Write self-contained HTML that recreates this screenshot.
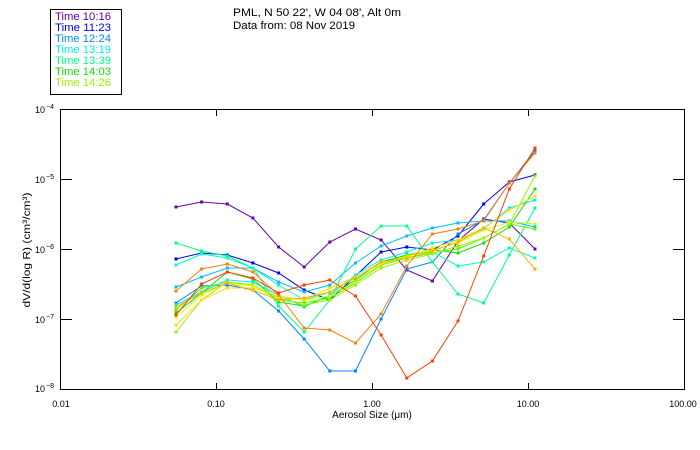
<!DOCTYPE html>
<html><head><meta charset="utf-8"><style>
html,body{margin:0;padding:0;background:#fff;}
svg{display:block;font-family:"Liberation Sans",sans-serif;}
</style></head><body>
<svg width="700" height="450" viewBox="0 0 700 450" xmlns="http://www.w3.org/2000/svg">
<defs>
<marker id="m1" markerUnits="userSpaceOnUse" markerWidth="4" markerHeight="4" refX="2" refY="2"><rect x="0.5" y="0.5" width="3" height="3" fill="#6600aa"/></marker>
<marker id="m2" markerUnits="userSpaceOnUse" markerWidth="4" markerHeight="4" refX="2" refY="2"><rect x="0.5" y="0.5" width="3" height="3" fill="#0000ee"/></marker>
<marker id="m3" markerUnits="userSpaceOnUse" markerWidth="4" markerHeight="4" refX="2" refY="2"><rect x="0.5" y="0.5" width="3" height="3" fill="#0088ff"/></marker>
<marker id="m4" markerUnits="userSpaceOnUse" markerWidth="4" markerHeight="4" refX="2" refY="2"><rect x="0.5" y="0.5" width="3" height="3" fill="#00c0ff"/></marker>
<marker id="m5" markerUnits="userSpaceOnUse" markerWidth="4" markerHeight="4" refX="2" refY="2"><rect x="0.5" y="0.5" width="3" height="3" fill="#00f0f0"/></marker>
<marker id="m6" markerUnits="userSpaceOnUse" markerWidth="4" markerHeight="4" refX="2" refY="2"><rect x="0.5" y="0.5" width="3" height="3" fill="#00ff88"/></marker>
<marker id="m7" markerUnits="userSpaceOnUse" markerWidth="4" markerHeight="4" refX="2" refY="2"><rect x="0.5" y="0.5" width="3" height="3" fill="#00ffb8"/></marker>
<marker id="m8" markerUnits="userSpaceOnUse" markerWidth="4" markerHeight="4" refX="2" refY="2"><rect x="0.5" y="0.5" width="3" height="3" fill="#10e010"/></marker>
<marker id="m9" markerUnits="userSpaceOnUse" markerWidth="4" markerHeight="4" refX="2" refY="2"><rect x="0.5" y="0.5" width="3" height="3" fill="#50ff00"/></marker>
<marker id="m10" markerUnits="userSpaceOnUse" markerWidth="4" markerHeight="4" refX="2" refY="2"><rect x="0.5" y="0.5" width="3" height="3" fill="#a0f000"/></marker>
<marker id="m11" markerUnits="userSpaceOnUse" markerWidth="4" markerHeight="4" refX="2" refY="2"><rect x="0.5" y="0.5" width="3" height="3" fill="#d0ff00"/></marker>
<marker id="m12" markerUnits="userSpaceOnUse" markerWidth="4" markerHeight="4" refX="2" refY="2"><rect x="0.5" y="0.5" width="3" height="3" fill="#ffe000"/></marker>
<marker id="m13" markerUnits="userSpaceOnUse" markerWidth="4" markerHeight="4" refX="2" refY="2"><rect x="0.5" y="0.5" width="3" height="3" fill="#ffb000"/></marker>
<marker id="m14" markerUnits="userSpaceOnUse" markerWidth="4" markerHeight="4" refX="2" refY="2"><rect x="0.5" y="0.5" width="3" height="3" fill="#ff8000"/></marker>
<marker id="m15" markerUnits="userSpaceOnUse" markerWidth="4" markerHeight="4" refX="2" refY="2"><rect x="0.5" y="0.5" width="3" height="3" fill="#ff4000"/></marker>
</defs>

<!-- Legend -->
<rect x="50.5" y="9.5" width="71" height="85" fill="none" stroke="#000" stroke-width="1"/>
<g font-size="11">
<text x="55" y="20" fill="#6600aa" textLength="56" lengthAdjust="spacingAndGlyphs">Time 10:16</text>
<text x="55" y="31" fill="#0000ee" textLength="56" lengthAdjust="spacingAndGlyphs">Time 11:23</text>
<text x="55" y="42" fill="#0088ff" textLength="56" lengthAdjust="spacingAndGlyphs">Time 12:24</text>
<text x="55" y="53" fill="#00f0f0" textLength="56" lengthAdjust="spacingAndGlyphs">Time 13:19</text>
<text x="55" y="64" fill="#00ff88" textLength="56" lengthAdjust="spacingAndGlyphs">Time 13:39</text>
<text x="55" y="75" fill="#10e010" textLength="56" lengthAdjust="spacingAndGlyphs">Time 14:03</text>
<text x="55" y="86" fill="#a0f000" textLength="56" lengthAdjust="spacingAndGlyphs">Time 14:26</text>
</g>

<!-- Title -->
<text x="233" y="16" font-size="11" fill="#000" textLength="168" lengthAdjust="spacingAndGlyphs">PML, N 50 22', W 04 08', Alt 0m</text>
<text x="233" y="29" font-size="11" fill="#000" textLength="122" lengthAdjust="spacingAndGlyphs">Data from: 08 Nov 2019</text>

<!-- Axes frame -->
<rect x="60.5" y="109.5" width="624" height="280" fill="none" stroke="#000" stroke-width="1"/>
<g stroke="#000" stroke-width="1">
<line x1="60" y1="179.5" x2="72" y2="179.5"/>
<line x1="60" y1="249.5" x2="72" y2="249.5"/>
<line x1="60" y1="319.5" x2="72" y2="319.5"/>
<line x1="685" y1="179.5" x2="673" y2="179.5"/>
<line x1="685" y1="249.5" x2="673" y2="249.5"/>
<line x1="685" y1="319.5" x2="673" y2="319.5"/>
<line x1="216.5" y1="389" x2="216.5" y2="383"/>
<line x1="372.5" y1="389" x2="372.5" y2="383"/>
<line x1="528.5" y1="389" x2="528.5" y2="383"/>
<line x1="216.5" y1="110" x2="216.5" y2="116"/>
<line x1="372.5" y1="110" x2="372.5" y2="116"/>
<line x1="528.5" y1="110" x2="528.5" y2="116"/>
</g>

<!-- Y tick labels -->
<g fill="#000">
<text x="35" y="113" font-size="9">10</text><text x="46" y="109" font-size="7">−4</text>
<text x="35" y="183" font-size="9">10</text><text x="46" y="179" font-size="7">−5</text>
<text x="35" y="253" font-size="9">10</text><text x="46" y="249" font-size="7">−6</text>
<text x="35" y="323" font-size="9">10</text><text x="46" y="319" font-size="7">−7</text>
<text x="35" y="392" font-size="9">10</text><text x="46" y="388" font-size="7">−8</text>
</g>

<!-- X tick labels -->
<g fill="#000" font-size="9" text-anchor="middle">
<text x="61" y="407">0.01</text>
<text x="216" y="407">0.10</text>
<text x="372" y="407">1.00</text>
<text x="528" y="407">10.00</text>
<text x="683" y="407">100.00</text>
</g>

<!-- Axis titles -->
<text x="372" y="418" font-size="10" text-anchor="middle" fill="#000">Aerosol Size (μm)</text>
<text transform="translate(30,250) rotate(-90)" font-size="10" text-anchor="middle" fill="#000" textLength="115" lengthAdjust="spacingAndGlyphs">dV/d(log R)  (cm³/cm³)</text>

<!-- Series -->
<g fill="none" stroke-width="1">
<polyline stroke="#6600aa" marker-start="url(#m1)" marker-mid="url(#m1)" marker-end="url(#m1)" points="176,207 201.6,202 227.3,204 252.9,218 278.6,247 304.2,267 329.8,242 355.5,229 381.1,240 406.8,270 432.4,281 458,241 483.7,219 509.3,223 535,249"/>
<polyline stroke="#0000ee" marker-start="url(#m2)" marker-mid="url(#m2)" marker-end="url(#m2)" points="176,259 201.6,253 227.3,255 252.9,263 278.6,273 304.2,290 329.8,300 355.5,276 381.1,252 406.8,247 432.4,250 458,236 483.7,204 509.3,182 535,175"/>
<polyline stroke="#0088ff" marker-start="url(#m3)" marker-mid="url(#m3)" marker-end="url(#m3)" points="176,303 201.6,286 227.3,285 252.9,290 278.6,311 304.2,339 329.8,371 355.5,371 381.1,319 406.8,269 432.4,262 458,234 483.7,220 509.3,183 535,151"/>
<polyline stroke="#00c0ff" marker-start="url(#m4)" marker-mid="url(#m4)" marker-end="url(#m4)" points="176,287 201.6,277 227.3,268 252.9,268 278.6,282 304.2,292 329.8,285 355.5,263 381.1,246 406.8,236 432.4,228 458,223 483.7,221 509.3,221 535,227"/>
<polyline stroke="#00f0f0" marker-start="url(#m5)" marker-mid="url(#m5)" marker-end="url(#m5)" points="176,305 201.6,292 227.3,280 252.9,282 278.6,295 304.2,307 329.8,295 355.5,275 381.1,260 406.8,252 432.4,243 458,240 483.7,229 509.3,208 535,200"/>
<polyline stroke="#00ff88" marker-start="url(#m6)" marker-mid="url(#m6)" marker-end="url(#m6)" points="176,243 201.6,251 227.3,256 252.9,268 278.6,306 304.2,332 329.8,300 355.5,249 381.1,226 406.8,226 432.4,262 458,294 483.7,303 509.3,255 535,208"/>
<polyline stroke="#00ffb8" marker-start="url(#m7)" marker-mid="url(#m7)" marker-end="url(#m7)" points="176,265 201.6,254 227.3,258 252.9,268 278.6,285 304.2,300 329.8,292 355.5,278 381.1,262 406.8,255 432.4,252 458,266 483.7,262 509.3,248 535,258"/>
<polyline stroke="#10e010" marker-start="url(#m8)" marker-mid="url(#m8)" marker-end="url(#m8)" points="176,313 201.6,293 227.3,272 252.9,279 278.6,302 304.2,306 329.8,296 355.5,280 381.1,262 406.8,255 432.4,250 458,253 483.7,243 509.3,227 535,189"/>
<polyline stroke="#50ff00" marker-start="url(#m9)" marker-mid="url(#m9)" marker-end="url(#m9)" points="176,310 201.6,288 227.3,282 252.9,285 278.6,300 304.2,303 329.8,298 355.5,283 381.1,265 406.8,258 432.4,253 458,249 483.7,238 509.3,224 535,229"/>
<polyline stroke="#a0f000" marker-start="url(#m10)" marker-mid="url(#m10)" marker-end="url(#m10)" points="176,332 201.6,300 227.3,282 252.9,285 278.6,298 304.2,305 329.8,300 355.5,285 381.1,268 406.8,260 432.4,254 458,246 483.7,238 509.3,224 535,176"/>
<polyline stroke="#d0ff00" marker-start="url(#m11)" marker-mid="url(#m11)" marker-end="url(#m11)" points="176,317 201.6,295 227.3,283 252.9,286 278.6,297 304.2,300 329.8,296 355.5,282 381.1,264 406.8,256 432.4,250 458,243 483.7,230 509.3,222 535,224"/>
<polyline stroke="#ffe000" marker-start="url(#m12)" marker-mid="url(#m12)" marker-end="url(#m12)" points="176,325 201.6,300 227.3,288 252.9,288 278.6,296 304.2,300 329.8,288 355.5,277 381.1,264 406.8,257 432.4,248 458,240 483.7,228 509.3,210 535,196"/>
<polyline stroke="#ffb000" marker-start="url(#m13)" marker-mid="url(#m13)" marker-end="url(#m13)" points="176,307 201.6,293 227.3,283 252.9,290 278.6,300 304.2,298 329.8,292 355.5,278 381.1,262 406.8,258 432.4,251 458,242 483.7,228 509.3,239 535,269"/>
<polyline stroke="#ff8000" marker-start="url(#m14)" marker-mid="url(#m14)" marker-end="url(#m14)" points="176,291 201.6,269 227.3,264 252.9,272 278.6,295 304.2,328 329.8,330 355.5,343 381.1,314 406.8,266 432.4,234 458,229 483.7,221 509.3,183 535,153"/>
<polyline stroke="#ff4000" marker-start="url(#m15)" marker-mid="url(#m15)" marker-end="url(#m15)" points="176,315 201.6,284 227.3,272 252.9,278 278.6,293 304.2,285 329.8,280 355.5,296 381.1,335 406.8,378 432.4,361 458,321 483.7,256 509.3,189 535,148"/>
</g>
</svg>
</body></html>
